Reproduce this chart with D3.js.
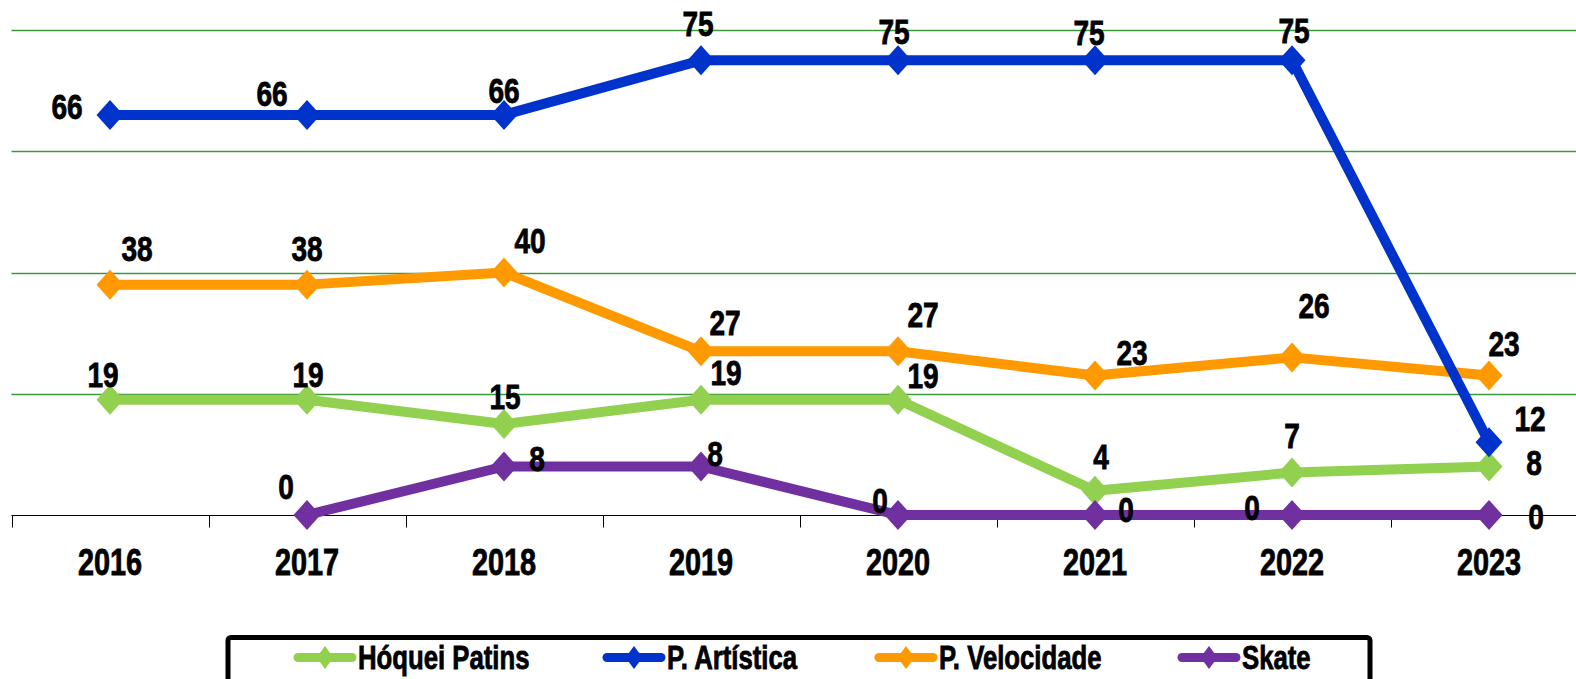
<!DOCTYPE html>
<html>
<head>
<meta charset="utf-8">
<script src="https://cdn.jsdelivr.net/npm/d3@7"></script>
<style>
    html, body { margin: 0; padding: 0; background: #ffffff; }
    svg text { font-family: 'Liberation Sans', Arial, sans-serif; font-weight: bold; fill: #000; stroke: #000; stroke-width: 0.8px; }
</style>
</head>
<body>
<div id="chart"></div>
<script>

// data

var years = ["2016", "2017", "2018", "2019", "2020", "2021", "2022", "2023"];
var seriesNames = ["Hóquei Patins", "P. Artística", "P. Velocidade", "Skate"];
var hoqueiValues = [19, 19, 15, 19, 19, 4, 7, 8];
var artisticaValues = [66, 66, 66, 75, 75, 75, 75, 12];
var velocidadeValues = [38, 38, 40, 27, 27, 23, 26, 23];
var skateValues = [null, 0, 8, 8, 0, 0, 0, 0];
var gridValues = [0, 20, 40, 60, 80];

// label nudges (dx, dy of label centre from its point)

var hoqueiNudge = [[-7,-26],[1,-26],[1,-28],[25,-28],[25,-25],[6,-35],[0,-38],[45,-5]];
var artisticaNudge = [[-43,-9],[-35,-22],[0,-25],[-3,-37],[-4,-29],[-6,-28],[2,-30],[41,-24]];
var velocidadeNudge = [[27,-37],[0,-37],[26,-33],[24,-29],[25,-37],[37,-24],[22,-52],[15,-33]];
var skateNudge = [null,[-21,-29],[33,-9],[14,-14],[-18,-15],[31,-6],[-40,-8],[47,1]];

var seriesColors = ["#92D050", "#0033CC", "#FF9900", "#7030A0"];
var legendX = [294, 603, 875, 1178];
var squeeze = 0.78;

var viz = viz || {};

viz.lines = function(options)
{
    var self = {};

    for (key in options){
        self[key] = options[key];
    }

    self.parent_select = "#" + self.id_name;

    self.init = function(){

        self.svg = d3.select(self.parent_select).append("svg")
            .attr("width", self.width)
            .attr("height", self.height);

        self.x = d3.scaleBand().domain(years).range([11.5, 11.5 + 197 * years.length]);
        self.y = d3.scaleLinear().domain([0, 80]).range([515, 30]);
    };

    // condensed bold text, anchored at (x, y)

    self.label = function(sel, fx, fy, anchor){
        sel.attr("transform", function(d, i){ return "translate(" + fx(d, i) + "," + fy(d, i) + ") scale(" + squeeze + ",1)"; })
            .attr("text-anchor", anchor);
    };

    self.render = function(series)
    {
        var x = self.x, y = self.y;
        var cx = function(i){ return x(years[i]) + x.bandwidth() / 2; };

        // grid lines

        self.svg.append("g").selectAll("line")
            .data(gridValues.filter(function(v){ return v > 0; }))
            .enter().append("line")
            .attr("x1", 11.5).attr("x2", self.width)
            .attr("y1", function(d){ return Math.round(y(d)) + 0.5; })
            .attr("y2", function(d){ return Math.round(y(d)) + 0.5; })
            .attr("stroke", "#3a9a3a")
            .attr("stroke-width", 1.3);

        // category axis

        var axis = self.svg.append("g")
            .attr("transform", "translate(0," + (Math.round(y(0)) + 0.5) + ")");
        axis.append("line")
            .attr("x1", 11.5).attr("x2", self.width)
            .attr("stroke", "#000").attr("stroke-width", 1);
        axis.selectAll("line.tick")
            .data(years)
            .enter().append("line")
            .attr("class", "tick")
            .attr("x1", function(d){ return Math.round(x(d)) + 0.5; })
            .attr("x2", function(d){ return Math.round(x(d)) + 0.5; })
            .attr("y1", 0).attr("y2", 12)
            .attr("stroke", "#000");
        axis.selectAll("text")
            .data(years)
            .enter().append("text")
            .style("font-size", "37px")
            .text(function(d){ return d; })
            .call(self.label, function(d){ return x(d) + x.bandwidth() / 2; }, function(){ return 59; }, "middle");

        // series (velocidade before artistica so the blue drop sits on top)

        var order = [0, 2, 1, 3];
        var line = d3.line()
            .defined(function(d){ return d !== null; })
            .x(function(d, i){ return cx(i); })
            .y(function(d){ return y(d); });

        var diamond = function(hw, hh){
            return "M0," + (-hh) + "L" + hw + ",0L0," + hh + "L" + (-hw) + ",0Z";
        };

        var points = function(s){
            return series[s].values
                .map(function(v, i){ return {v: v, i: i, nudge: series[s].nudge[i]}; })
                .filter(function(d){ return d.v !== null; });
        };

        order.forEach(function(s){
            var g = self.svg.append("g");

            g.append("path")
                .datum(series[s].values)
                .attr("d", line)
                .attr("fill", "none")
                .attr("stroke", seriesColors[s])
                .attr("stroke-width", 10)
                .attr("stroke-linejoin", "round");

            g.selectAll("path.marker")
                .data(points(s))
                .enter().append("path")
                .attr("class", "marker")
                .attr("d", diamond(13.5, 15))
                .attr("fill", seriesColors[s])
                .attr("transform", function(d){ return "translate(" + cx(d.i) + "," + y(d.v) + ")"; });
        });

        // data labels on top

        order.forEach(function(s){
            self.svg.append("g").selectAll("text")
                .data(points(s))
                .enter().append("text")
                .style("font-size", "36px")
                .text(function(d){ return d.v; })
                .call(self.label,
                    function(d){ return cx(d.i) + d.nudge[0]; },
                    function(d){ return y(d.v) + d.nudge[1] + 13; },
                    "middle");
        });

        // legend

        self.svg.append("rect")
            .attr("x", 228).attr("y", 637.5)
            .attr("width", 1142).attr("height", 80)
            .attr("rx", 3)
            .attr("fill", "#fff")
            .attr("stroke", "#000")
            .attr("stroke-width", 5);

        var legend = self.svg.append("g").selectAll("g")
            .data(seriesNames)
            .enter().append("g")
            .attr("transform", function(d, i){ return "translate(" + legendX[i] + ",657.5)"; });
        legend.append("line")
            .attr("x1", 4).attr("x2", 58)
            .attr("stroke", function(d, i){ return seriesColors[i]; })
            .attr("stroke-width", 9)
            .attr("stroke-linecap", "round");
        legend.append("path")
            .attr("d", diamond(8.5, 11.5))
            .attr("transform", "translate(31,0)")
            .attr("fill", function(d, i){ return seriesColors[i]; });
        legend.append("text")
            .style("font-size", "33px")
            .text(function(d){ return d; })
            .call(self.label, function(){ return 64; }, function(){ return 11; }, "start");
    };

    self.init();

    return self;
};

var chart = viz.lines({id_name: "chart", width: 1576, height: 679});
chart.render([
    {values: hoqueiValues, nudge: hoqueiNudge},
    {values: artisticaValues, nudge: artisticaNudge},
    {values: velocidadeValues, nudge: velocidadeNudge},
    {values: skateValues, nudge: skateNudge}
]);

</script>
</body>
</html>
